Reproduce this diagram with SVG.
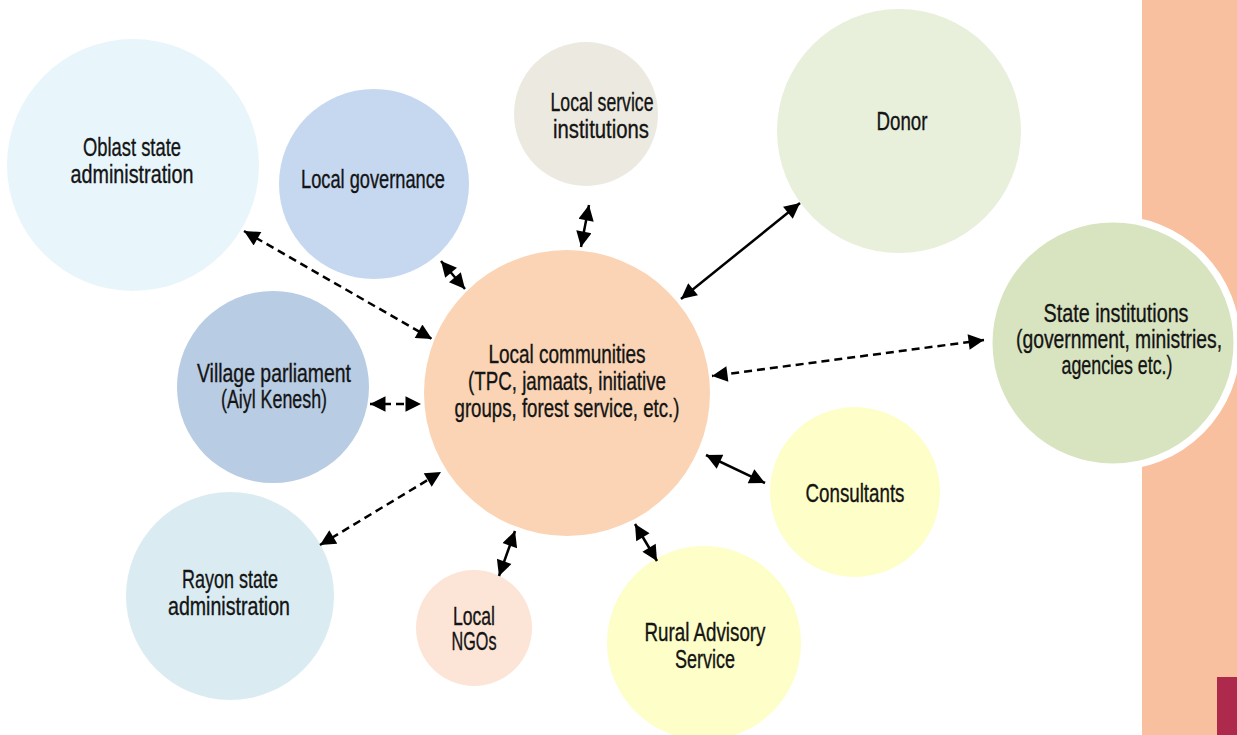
<svg xmlns="http://www.w3.org/2000/svg" width="1237" height="735" viewBox="0 0 1237 735">
  <style>
    text { font-family: "Liberation Sans", Arial, sans-serif; font-size: 25px; fill: #141414; stroke: #141414; stroke-width: 0.35; text-anchor: middle; }
    .link { stroke: #000; stroke-width: 2.5; fill: none; marker-start: url(#head); marker-end: url(#head); }
    .dash { stroke-dasharray: 8 5; }
  </style>
  <defs>
    <marker id="head" viewBox="0 0 10 10" refX="10" refY="5" markerWidth="6.8" markerHeight="6.2" markerUnits="strokeWidth" orient="auto-start-reverse">
      <path d="M0,0 L10,5 L0,10 Z" fill="#000"/>
    </marker>
  </defs>

  <rect x="0" y="0" width="1237" height="735" fill="#fff"/>

  <!-- side band -->
  <g id="side-band">
    <rect x="1142" y="0" width="95" height="735" fill="#F9C0A0"/>
    <rect x="1217" y="677" width="20" height="58" fill="#AE2A4C"/>
  </g>

  <g id="oblast">
    <circle cx="133" cy="165" r="126" fill="#E8F6FC"/>
    <text x="132" y="156" textLength="98" lengthAdjust="spacingAndGlyphs">Oblast state</text>
    <text x="132" y="183" textLength="123" lengthAdjust="spacingAndGlyphs">administration</text>
  </g>

  <g id="local-governance">
    <circle cx="374" cy="184" r="95" fill="#C5D8F0"/>
    <text x="373" y="188" textLength="144" lengthAdjust="spacingAndGlyphs">Local governance</text>
  </g>

  <g id="local-service">
    <circle cx="586" cy="114" r="72" fill="#ECEAE0"/>
    <text x="602" y="111" textLength="103" lengthAdjust="spacingAndGlyphs">Local service</text>
    <text x="601" y="138" textLength="96" lengthAdjust="spacingAndGlyphs">institutions</text>
  </g>

  <g id="donor">
    <circle cx="899" cy="131" r="122" fill="#E8F0DC"/>
    <text x="902" y="130" textLength="51" lengthAdjust="spacingAndGlyphs">Donor</text>
  </g>

  <g id="state-institutions">
    <circle cx="1113" cy="343" r="124" fill="#D8E4C0" stroke="#fff" stroke-width="7"/>
    <text x="1116" y="322" textLength="145" lengthAdjust="spacingAndGlyphs">State institutions</text>
    <text x="1119" y="348" textLength="206" lengthAdjust="spacingAndGlyphs">(government, ministries,</text>
    <text x="1117" y="374" textLength="111" lengthAdjust="spacingAndGlyphs">agencies etc.)</text>
  </g>

  <g id="village-parliament">
    <circle cx="273" cy="387" r="96" fill="#B8CCE4"/>
    <text x="274" y="382" textLength="154" lengthAdjust="spacingAndGlyphs">Village parliament</text>
    <text x="274" y="408" textLength="106" lengthAdjust="spacingAndGlyphs">(Aiyl Kenesh)</text>
  </g>

  <g id="local-communities">
    <circle cx="567" cy="393" r="143" fill="#FAD4B4"/>
    <text x="567" y="363" textLength="157" lengthAdjust="spacingAndGlyphs">Local communities</text>
    <text x="567" y="390" textLength="198" lengthAdjust="spacingAndGlyphs">(TPC, jamaats, initiative</text>
    <text x="567" y="417" textLength="225" lengthAdjust="spacingAndGlyphs">groups, forest service, etc.)</text>
  </g>

  <g id="rayon">
    <circle cx="230" cy="596" r="104" fill="#DAECF2"/>
    <text x="230" y="588" textLength="96" lengthAdjust="spacingAndGlyphs">Rayon state</text>
    <text x="229" y="615" textLength="122" lengthAdjust="spacingAndGlyphs">administration</text>
  </g>

  <g id="local-ngos">
    <circle cx="474" cy="628" r="58" fill="#FCE4D6"/>
    <text x="474" y="625" textLength="42" lengthAdjust="spacingAndGlyphs">Local</text>
    <text x="474" y="650" textLength="45" lengthAdjust="spacingAndGlyphs">NGOs</text>
  </g>

  <g id="rural-advisory">
    <circle cx="704" cy="643" r="97" fill="#FEFEC8"/>
    <text x="705" y="641" textLength="121" lengthAdjust="spacingAndGlyphs">Rural Advisory</text>
    <text x="705" y="668" textLength="60" lengthAdjust="spacingAndGlyphs">Service</text>
  </g>

  <g id="consultants">
    <circle cx="855" cy="492" r="85" fill="#FEFEC8"/>
    <text x="855" y="502" textLength="99" lengthAdjust="spacingAndGlyphs">Consultants</text>
  </g>

  <!-- connectors -->
  <g id="connectors">
    <line class="link dash" x1="244" y1="231" x2="432" y2="339"/>
    <line class="link" x1="441" y1="261" x2="465" y2="289"/>
    <line class="link" x1="589" y1="205" x2="581" y2="247"/>
    <line class="link" x1="800" y1="203" x2="681" y2="299"/>
    <line class="link dash" x1="984" y1="340" x2="712" y2="376"/>
    <line class="link dash" x1="370" y1="404" x2="421" y2="404"/>
    <line class="link dash" x1="320" y1="545" x2="441" y2="472"/>
    <line class="link" x1="706" y1="455" x2="765" y2="483"/>
    <line class="link" x1="515" y1="531" x2="499" y2="576"/>
    <line class="link" x1="635" y1="524" x2="657" y2="561"/>
  </g>
</svg>
